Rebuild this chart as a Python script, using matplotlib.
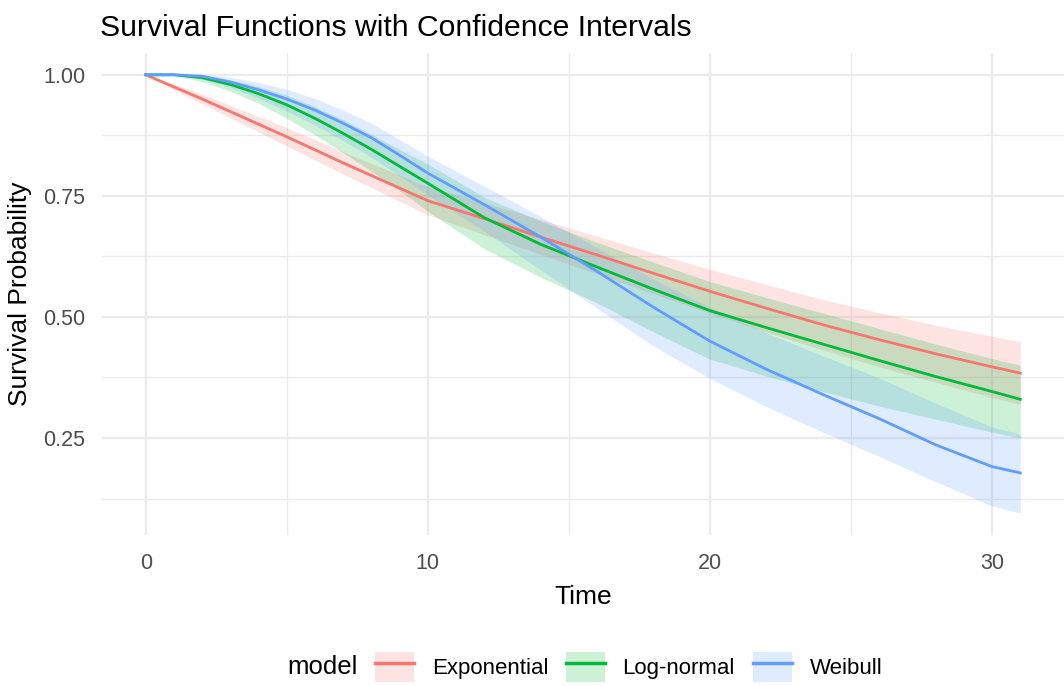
import matplotlib.pyplot as plt
from matplotlib.patches import Patch
from matplotlib.lines import Line2D
from matplotlib.legend_handler import HandlerTuple

# ── Values ─────────────────────────────────────────────────────────────
time = [0, 1, 2, 3, 4, 5, 6, 7, 8, 9, 10, 12, 14, 16, 18, 20, 22, 24, 26, 28, 30, 31]

exp_est = [1.000, 0.975, 0.950, 0.924, 0.898, 0.872, 0.845, 0.818, 0.792, 0.766, 0.740,
           0.703, 0.665, 0.628, 0.590, 0.553, 0.518, 0.484, 0.453, 0.424, 0.397, 0.384]
exp_lo = [1.000, 0.969, 0.940, 0.911, 0.882, 0.853, 0.824, 0.795, 0.767, 0.739, 0.711,
          0.670, 0.629, 0.589, 0.548, 0.508, 0.469, 0.432, 0.397, 0.365, 0.334, 0.319]
exp_hi = [1.000, 0.981, 0.960, 0.937, 0.914, 0.891, 0.866, 0.841, 0.817, 0.793, 0.769,
          0.736, 0.701, 0.667, 0.632, 0.598, 0.567, 0.536, 0.509, 0.483, 0.460, 0.449]

lnorm_est = [1.000, 1.000, 0.994, 0.980, 0.961, 0.938, 0.910, 0.879, 0.846, 0.811, 0.776,
             0.705, 0.650, 0.603, 0.557, 0.513, 0.478, 0.444, 0.410, 0.377, 0.346, 0.330]
lnorm_lo = [1.000, 0.999, 0.986, 0.966, 0.941, 0.910, 0.876, 0.839, 0.801, 0.761, 0.718,
            0.641, 0.582, 0.529, 0.469, 0.413, 0.378, 0.346, 0.316, 0.289, 0.262, 0.250]
lnorm_hi = [1.000, 1.000, 0.998, 0.990, 0.976, 0.958, 0.934, 0.907, 0.877, 0.846, 0.816,
            0.747, 0.698, 0.654, 0.613, 0.573, 0.540, 0.508, 0.476, 0.444, 0.414, 0.400]

weib_est = [1.000, 1.000, 0.997, 0.985, 0.969, 0.950, 0.927, 0.900, 0.870, 0.834, 0.797,
            0.732, 0.665, 0.594, 0.520, 0.450, 0.392, 0.340, 0.290, 0.236, 0.191, 0.178]
weib_lo = [1.000, 0.999, 0.992, 0.974, 0.951, 0.925, 0.896, 0.864, 0.830, 0.791, 0.752,
           0.677, 0.597, 0.518, 0.440, 0.373, 0.315, 0.262, 0.212, 0.160, 0.110, 0.095]
weib_hi = [1.000, 1.000, 1.000, 0.995, 0.984, 0.970, 0.951, 0.927, 0.900, 0.866, 0.832,
           0.770, 0.707, 0.643, 0.578, 0.520, 0.467, 0.420, 0.374, 0.322, 0.273, 0.258]

models = ['Exponential', 'Log-normal', 'Weibull']
colors = ['#F8766D', '#00BA38', '#619CFF']

# ── Plot ───────────────────────────────────────────────────────────────
plt.rcParams['font.family'] = ['Liberation Sans', 'DejaVu Sans']

fig = plt.figure(figsize=(10.64, 6.86), dpi=100)
ax = fig.add_axes([102 / 1064, 1 - 535 / 686, 962 / 1064, 482 / 686])

series = [(exp_est, exp_lo, exp_hi), (lnorm_est, lnorm_lo, lnorm_hi),
          (weib_est, weib_lo, weib_hi)]
for (est, lo, hi), c in zip(series, colors):
    ax.fill_between(time, lo, hi, color=c, alpha=0.2, linewidth=0, zorder=2)
for (est, lo, hi), c in zip(series, colors):
    ax.plot(time, est, color=c, linewidth=2.0, zorder=3)

ax.set_xlim(-1.55, 32.55)
ax.set_ylim(0.0498, 1.045)
ax.set_xticks([0, 10, 20, 30])
ax.set_yticks([0.25, 0.50, 0.75, 1.00])
ax.set_yticklabels(['0.25', '0.50', '0.75', '1.00'])
ax.set_xticks([5, 15, 25], minor=True)
ax.set_yticks([0.125, 0.375, 0.625, 0.875], minor=True)

ax.grid(True, which='major', color='#EBEBEB', linewidth=1.6, zorder=0)
ax.grid(True, which='minor', color='#EBEBEB', linewidth=1.0, zorder=0)
ax.set_axisbelow(True)
for s in ax.spines.values():
    s.set_visible(False)
ax.tick_params(which='both', length=0, labelsize=15.5, labelcolor='#4D4D4D')
ax.tick_params(axis='x', pad=13)
ax.tick_params(axis='y', pad=12)

ax.set_xlabel('Time', fontsize=19, labelpad=8)
ax.set_ylabel('Survival Probability', fontsize=19, labelpad=8)
fig.text(100 / 1064, 1 - 28 / 686, 'Survival Functions with Confidence Intervals',
         fontsize=21.7, ha='left', va='center')

# Legend at the bottom, title on the left
fig.text(287 / 1064, 1 - 667 / 686, 'model', fontsize=18.5, va='center', ha='left')
handles = [(Patch(facecolor=c, alpha=0.2, linewidth=0), Line2D([], [], color=c, lw=2.5))
           for c in colors]
fig.legend(handles, models, handler_map={tuple: HandlerTuple(ndivide=1, pad=0)},
           loc='center left', bbox_to_anchor=(375 / 1064, 1 - 667 / 686),
           ncol=3, frameon=False, fontsize=16, handlelength=1.75, handleheight=1.7,
           handletextpad=0.8, columnspacing=0.8, borderpad=0, borderaxespad=0)

fig.savefig('out.png', dpi=100, facecolor='white')
